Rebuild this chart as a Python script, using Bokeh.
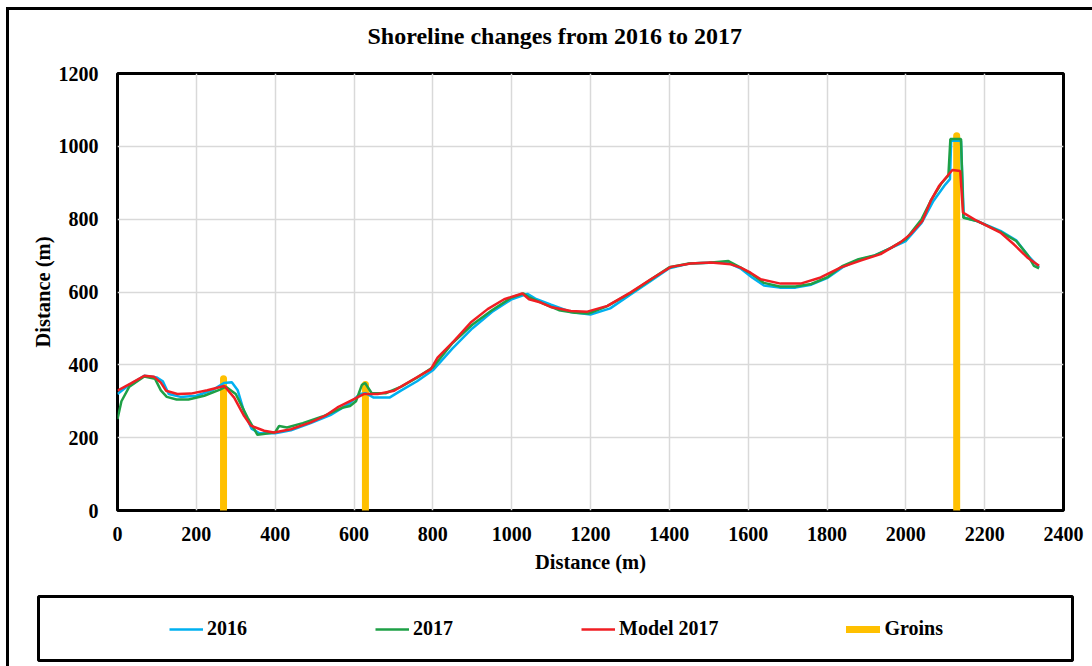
from bokeh.plotting import figure
from bokeh.layouts import column
from bokeh.models import Range1d, FixedTicker, Legend, LegendItem
from bokeh.embed import file_html
from bokeh.resources import INLINE

# ---- data ----
x_2016 = [0, 30, 68, 100, 115, 130, 160, 200, 240, 270, 290, 305, 322, 340, 360, 400, 440, 490,
          540, 590, 615, 630, 650, 690, 720, 760, 800, 850, 900, 950, 1000, 1040, 1060, 1100,
          1150, 1200, 1250, 1300, 1350, 1400, 1450, 1500, 1550, 1580, 1610, 1640, 1680, 1720,
          1760, 1800, 1840, 1880, 1920, 1960, 2000, 2040, 2070, 2100, 2112, 2115, 2140, 2147,
          2180, 2240, 2280, 2310, 2338]
y_2016 = [320, 345, 370, 365, 355, 320, 312, 315, 330, 350, 352, 330, 268, 225, 212, 212, 220, 240,
          262, 295, 320, 322, 310, 310, 330, 355, 385, 445, 500, 545, 580, 595, 582, 565,
          545, 538, 555, 592, 628, 665, 678, 680, 680, 665, 640, 618, 612, 612,
          620, 638, 668, 688, 700, 720, 740, 790, 850, 895, 910, 1015, 1015, 805,
          795, 768, 742, 700, 668]

x_2017 = [0, 10, 30, 68, 95, 110, 125, 150, 180, 220, 260, 275, 300, 330, 355, 370, 400, 410,
          430, 470, 520, 570, 590, 605, 620, 628, 645, 680, 720, 760, 800, 850, 900, 950, 1000,
          1030, 1045, 1080, 1120, 1160, 1195, 1240, 1300, 1350, 1400, 1450, 1500, 1550, 1580,
          1610, 1640, 1680, 1720, 1760, 1800, 1840, 1880, 1920, 1960, 2000, 2040, 2063, 2090,
          2108, 2113, 2140, 2146, 2180, 2240, 2280, 2310, 2325, 2338]
y_2017 = [251, 300, 340, 368, 362, 330, 312, 305, 305, 315, 332, 340, 320, 255, 208, 210, 215, 232,
          228, 240, 258, 282, 287, 300, 345, 350, 322, 322, 340, 365, 393, 460, 510, 550, 585,
          596, 585, 568, 550, 543, 541, 560, 596, 632, 668, 678, 680, 685, 668,
          648, 625, 615, 615, 622, 640, 672, 690, 700, 720, 745, 800, 850, 898,
          920, 1020, 1020, 804, 795, 765, 740, 700, 672, 665]

x_model = [0, 34, 68, 93, 110, 123, 152, 186, 228, 271, 296, 321, 338, 372, 397, 440, 490, 530,
           558, 600, 626, 660, 702, 752, 795, 812, 854, 896, 939, 981, 1027, 1044, 1074, 1099,
           1150, 1192, 1243, 1302, 1353, 1404, 1454, 1505, 1556, 1581, 1606, 1632, 1682, 1733,
           1784, 1834, 1885, 1936, 1987, 2012, 2042, 2063, 2084, 2118, 2138, 2145, 2181, 2240,
           2274, 2308, 2338]
y_model = [329, 349, 370, 367, 351, 329, 320, 321, 330, 342, 310, 260, 233, 219, 214, 223, 242, 262,
           283, 306, 320, 320, 329, 361, 388, 420, 466, 516, 553, 580, 596, 580, 571, 559,
           548, 546, 562, 599, 635, 669, 678, 681, 676, 667, 653, 635, 623, 623,
           640, 667, 686, 704, 737, 759, 795, 850, 891, 935, 932, 818, 795, 763,
           731, 695, 672]

groin_x = [269, 629, 2129]
groin_top = [362, 346, 1029]
groin_base = [0, 0, 0]

x_ticks = [0, 200, 400, 600, 800, 1000, 1200, 1400, 1600, 1800, 2000, 2200, 2400]
y_ticks = [0, 200, 400, 600, 800, 1000, 1200]

series_names = ["2016", "2017", "Model 2017", "Groins"]

FONT = "Liberation Serif"
C16, C17, CM, CG = "#00B0F0", "#1EA046", "#F01E23", "#FFC000"

# ---------------- main chart ----------------
p = figure(width=1083, height=595, output_backend="svg", toolbar_location=None,
           x_range=Range1d(0, 2400), y_range=Range1d(0, 1200),
           min_border_left=108, min_border_right=29, min_border_top=0, min_border_bottom=80,
           background_fill_color="white", border_fill_alpha=0)
p.margin = (-15, 0, 0, 0)

p.title.text = "Shoreline changes from 2016 to 2017"
p.title.text_font = FONT
p.title.text_font_style = "bold"
p.title.text_font_size = "24px"
p.title.align = "left"
p.title.offset = 250
p.title.standoff = 50
p.title.text_color = "black"

p.outline_line_color = "black"
p.outline_line_width = 3
p.outline_line_alpha = 1

for ax in (p.xaxis[0], p.yaxis[0]):
    ax.axis_line_color = None
    ax.major_tick_line_color = None
    ax.minor_tick_line_color = None
    ax.major_tick_out = 0
    ax.major_tick_in = 0
    ax.minor_tick_out = 0
    ax.minor_tick_in = 0
    ax.major_label_text_font = FONT
    ax.major_label_text_font_style = "bold"
    ax.major_label_text_font_size = "20px"
    ax.major_label_text_color = "black"
    ax.axis_label = "Distance (m)"
    ax.axis_label_text_font = FONT
    ax.axis_label_text_font_style = "bold"
    ax.axis_label_text_font_size = "20.5px"
    ax.axis_label_text_color = "black"

p.xaxis.ticker = FixedTicker(ticks=x_ticks)
p.yaxis.ticker = FixedTicker(ticks=y_ticks)
p.xaxis.major_label_standoff = 16
p.xaxis.axis_label_standoff = 7
p.yaxis.major_label_standoff = 19
p.yaxis.axis_label_standoff = 2

p.xgrid.ticker = FixedTicker(ticks=x_ticks)
p.ygrid.ticker = FixedTicker(ticks=y_ticks)
p.grid.grid_line_color = "#d9d9d9"
p.grid.grid_line_width = 1.5

p.segment(x0=groin_x, y0=groin_base, x1=groin_x, y1=groin_top,
          line_color=CG, line_width=7, line_cap="round")
p.line(x_2016, y_2016, line_color=C16, line_width=2.5)
p.line(x_2017, y_2017, line_color=C17, line_width=2.5)
p.line(x_model, y_model, line_color=CM, line_width=2.5)

# ---------------- legend box (separate root, so frames are not aligned) ----------------
q = figure(width=1038, height=76, output_backend="svg", toolbar_location=None,
           x_range=Range1d(0, 1), y_range=Range1d(0, 1),
           x_axis_type=None, y_axis_type=None,
           min_border_left=2, min_border_right=2, min_border_top=6, min_border_bottom=6,
           background_fill_color="white", border_fill_color="white")
q.outline_line_color = "black"
q.outline_line_width = 3
q.outline_line_alpha = 1
q.margin = (0, 0, 0, 27)

# legend-sample renderers: same data, lying outside this box's (0..1) ranges
l16 = q.line(x_2016, y_2016, line_color=C16, line_width=2.5)
l17 = q.line(x_2017, y_2017, line_color=C17, line_width=2.5)
lm = q.line(x_model, y_model, line_color=CM, line_width=2.5)
lg = q.segment(x0=groin_x, y0=groin_base, x1=groin_x, y1=groin_top,
               line_color=CG, line_width=7, line_cap="round")

legend = Legend(items=[LegendItem(label=series_names[0], renderers=[l16]),
                       LegendItem(label=series_names[1], renderers=[l17]),
                       LegendItem(label=series_names[2], renderers=[lm]),
                       LegendItem(label=series_names[3], renderers=[lg])],
                orientation="horizontal", location=(131, 20), padding=0, spacing=128,
                glyph_width=34, glyph_height=20, label_standoff=4,
                label_text_font=FONT, label_text_font_style="bold",
                label_text_font_size="20px", label_text_color="black",
                border_line_color=None, background_fill_alpha=0)
q.add_layout(legend)

top_part = column(p, margin=(7, 0, 0, 6),
                  styles={"border-left": "3px solid black", "border-top": "3px solid black"})
bottom_part = column(q, margin=(0, 0, 0, 6),
                     styles={"border-left": "3px solid black"})

open("out.html", "w").write(file_html([top_part, bottom_part], INLINE))
